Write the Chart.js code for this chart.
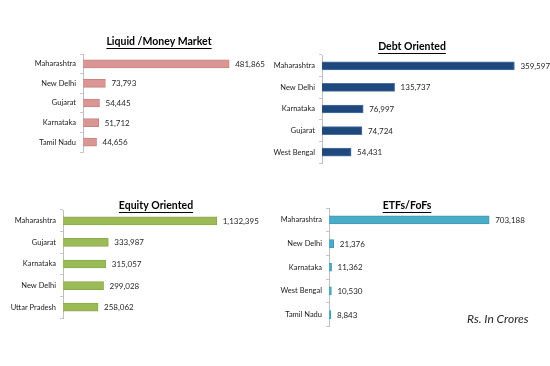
<!DOCTYPE html>
<html>
<head>
<meta charset="utf-8">
<script src="https://cdn.jsdelivr.net/npm/chart.js@4.4.0/dist/chart.umd.min.js"></script>
<style>
  body { margin: 0; background: #fff; width: 550px; height: 366px; position: relative; overflow: hidden; }
  .box { position: absolute; }
</style>
</head>
<body>
<div class="box" style="left:0px;top:20px;width:280px;height:150px"><canvas id="c1"></canvas></div>
<div class="box" style="left:265px;top:20px;width:285px;height:160px"><canvas id="c2"></canvas></div>
<div class="box" style="left:0px;top:185px;width:280px;height:145px"><canvas id="c3"></canvas></div>
<div class="box" style="left:265px;top:185px;width:285px;height:150px"><canvas id="c4"></canvas></div>
<script>
// datos de cada panel
const liquidStates = ['Maharashtra', 'New Delhi', 'Gujarat', 'Karnataka', 'Tamil Nadu'];
const liquidValues = [481865, 73793, 54445, 51712, 44656];

const debtStates = ['Maharashtra', 'New Delhi', 'Karnataka', 'Gujarat', 'West Bengal'];
const debtValues = [359597, 135737, 76997, 74724, 54431];

const equityStates = ['Maharashtra', 'Gujarat', 'Karnataka', 'New Delhi', 'Uttar Pradesh'];
const equityValues = [1132395, 333987, 315057, 299028, 258062];

const etfStates = ['Maharashtra', 'New Delhi', 'Karnataka', 'West Bengal', 'Tamil Nadu'];
const etfValues = [703188, 21376, 11362, 10530, 8843];

const FONT = 'Lato';

// titulo subrayado + etiquetas de valor
const panelText = {
  id: 'panelText',
  afterDraw(chart, args, opts) {
    const ctx = chart.ctx;
    ctx.save();
    const meta = chart.getDatasetMeta(0);
    const vals = chart.data.datasets[0].data;
    ctx.font = '8px ' + FONT;
    ctx.fillStyle = '#262626';
    ctx.textBaseline = 'middle';
    ctx.textAlign = 'left';
    meta.data.forEach((bar, i) => {
      ctx.fillText(vals[i].toLocaleString('en-US'), bar.x + 6, bar.y + 0.5);
    });

    ctx.font = 'bold 10.5px ' + FONT;
    ctx.textAlign = 'center';
    ctx.fillStyle = '#000';
    ctx.fillText(opts.title, opts.x, opts.y);
    const w = ctx.measureText(opts.title).width;
    ctx.fillRect(opts.x - w / 2, opts.y + 6, w, 1);

    if (opts.note) {
      ctx.font = 'italic 12px ' + FONT;
      ctx.textAlign = 'left';
      ctx.fillStyle = '#262626';
      ctx.fillText(opts.note, opts.noteX, opts.noteY);
    }
    ctx.restore();
  }
};

function makeChart(id, states, values, color, border, cfg) {
  return new Chart(document.getElementById(id).getContext('2d'), {
    type: 'bar',
    data: {
      labels: states,
      datasets: [{
        data: values,
        backgroundColor: color,
        borderColor: border,
        borderWidth: 1,
        barThickness: 8
      }]
    },
    options: {
      indexAxis: 'y',
      responsive: true,
      maintainAspectRatio: false,
      animation: false,
      layout: { padding: cfg.pad },
      plugins: {
        legend: { display: false },
        tooltip: { enabled: false },
        panelText: cfg.text
      },
      scales: {
        x: { display: false, min: 0, max: cfg.max },
        y: {
          afterFit: (s) => { s.width = cfg.axisW; },
          grid: { display: true, drawOnChartArea: false, tickLength: 3, color: '#c8c8c8' },
          border: { color: '#bfbfbf' },
          ticks: { color: '#1a1a1a', padding: 4, font: { family: FONT, size: 7.5 } }
        }
      }
    },
    plugins: [panelText]
  });
}

makeChart('c1', liquidStates, liquidValues, '#d99694', '#c98482', {
  axisW: 83, max: 600000,
  pad: { left: 0, top: 34, bottom: 18, right: 15 },
  text: { title: 'Liquid /Money Market', x: 159, y: 22 }
});

makeChart('c2', debtStates, debtValues, '#1f497d', '#4a72a8', {
  axisW: 57, max: 400000,
  pad: { left: 0, top: 35, bottom: 17, right: 14 },
  text: { title: 'Debt Oriented', x: 147, y: 27 }
});

makeChart('c3', equityStates, equityValues, '#9bbb59', '#8aab4a', {
  axisW: 63, max: 1400000,
  pad: { left: 0, top: 25, bottom: 12, right: 27 },
  text: { title: 'Equity Oriented', x: 156, y: 21 }
});

makeChart('c4', etfStates, etfValues, '#4bacc6', '#3d9bb4', {
  axisW: 64, max: 900000,
  pad: { left: 0, top: 23, bottom: 6, right: 16 },
  text: { title: 'ETFs/FoFs', x: 142, y: 21, note: 'Rs. In Crores', noteX: 202, noteY: 134 }
});
</script>
</body>
</html>
